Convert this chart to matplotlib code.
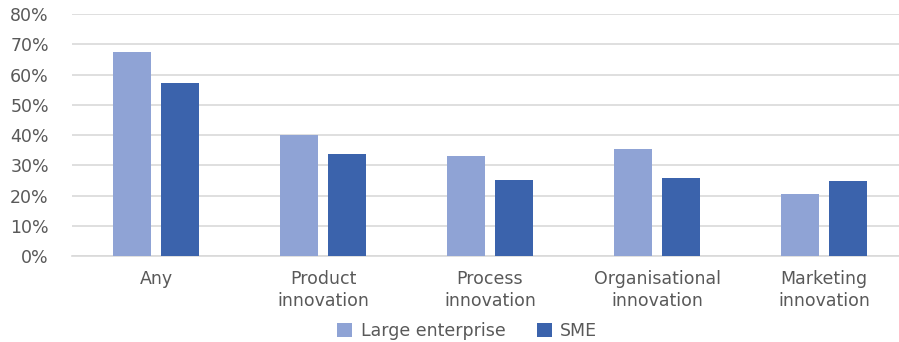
import numpy as np
import matplotlib
matplotlib.use('Agg')
import matplotlib.pyplot as plt
from matplotlib.ticker import FuncFormatter

categories = ['Any', 'Product\ninnovation', 'Process\ninnovation',
              'Organisational\ninnovation', 'Marketing\ninnovation']
large = [67.3, 40.1, 33.2, 35.3, 20.4]
sme = [57.3, 33.9, 25.2, 25.7, 24.8]
series_names = ['Large enterprise', 'SME']

LIGHT = '#8FA3D5'
DARK = '#3B63AC'
TEXT = '#595959'

fig = plt.figure(figsize=(8.99, 3.42), dpi=100)
# axes runs a bit past the right edge, as in the reference
ax = fig.add_axes([0.0806, 0.251, 0.929, 0.708])

x = np.arange(len(categories))
w = 0.228
gap = 0.06
ax.bar(x - (w + gap) / 2, large, w, color=LIGHT, label=series_names[0], zorder=3)
ax.bar(x + (w + gap) / 2, sme, w, color=DARK, label=series_names[1], zorder=3)

ax.set_ylim(0, 80)
ax.set_yticks(np.arange(0, 81, 10))
ax.yaxis.set_major_formatter(FuncFormatter(lambda v, p: f'{v:.0f}%'))
ax.set_xlim(-0.5, len(categories) - 0.5)
ax.set_xticks(x)
ax.set_xticklabels(categories, linespacing=1.25)

ax.grid(axis='y', color='#D9D9D9', linewidth=1.2, zorder=0)
for s in ['top', 'right', 'left']:
    ax.spines[s].set_visible(False)
ax.spines['bottom'].set_color('#D9D9D9')
ax.spines['bottom'].set_linewidth(1.2)
ax.tick_params(axis='both', length=0, labelsize=12.5, colors=TEXT)
ax.tick_params(axis='y', pad=17)
ax.tick_params(axis='x', pad=10)

fig.legend(loc='lower center', bbox_to_anchor=(0.52, -0.04), ncol=2, frameon=False,
           fontsize=12.5, labelcolor=TEXT, handlelength=0.85, handleheight=0.85,
           columnspacing=1.8, handletextpad=0.5)

fig.savefig('out.png', dpi=100)
